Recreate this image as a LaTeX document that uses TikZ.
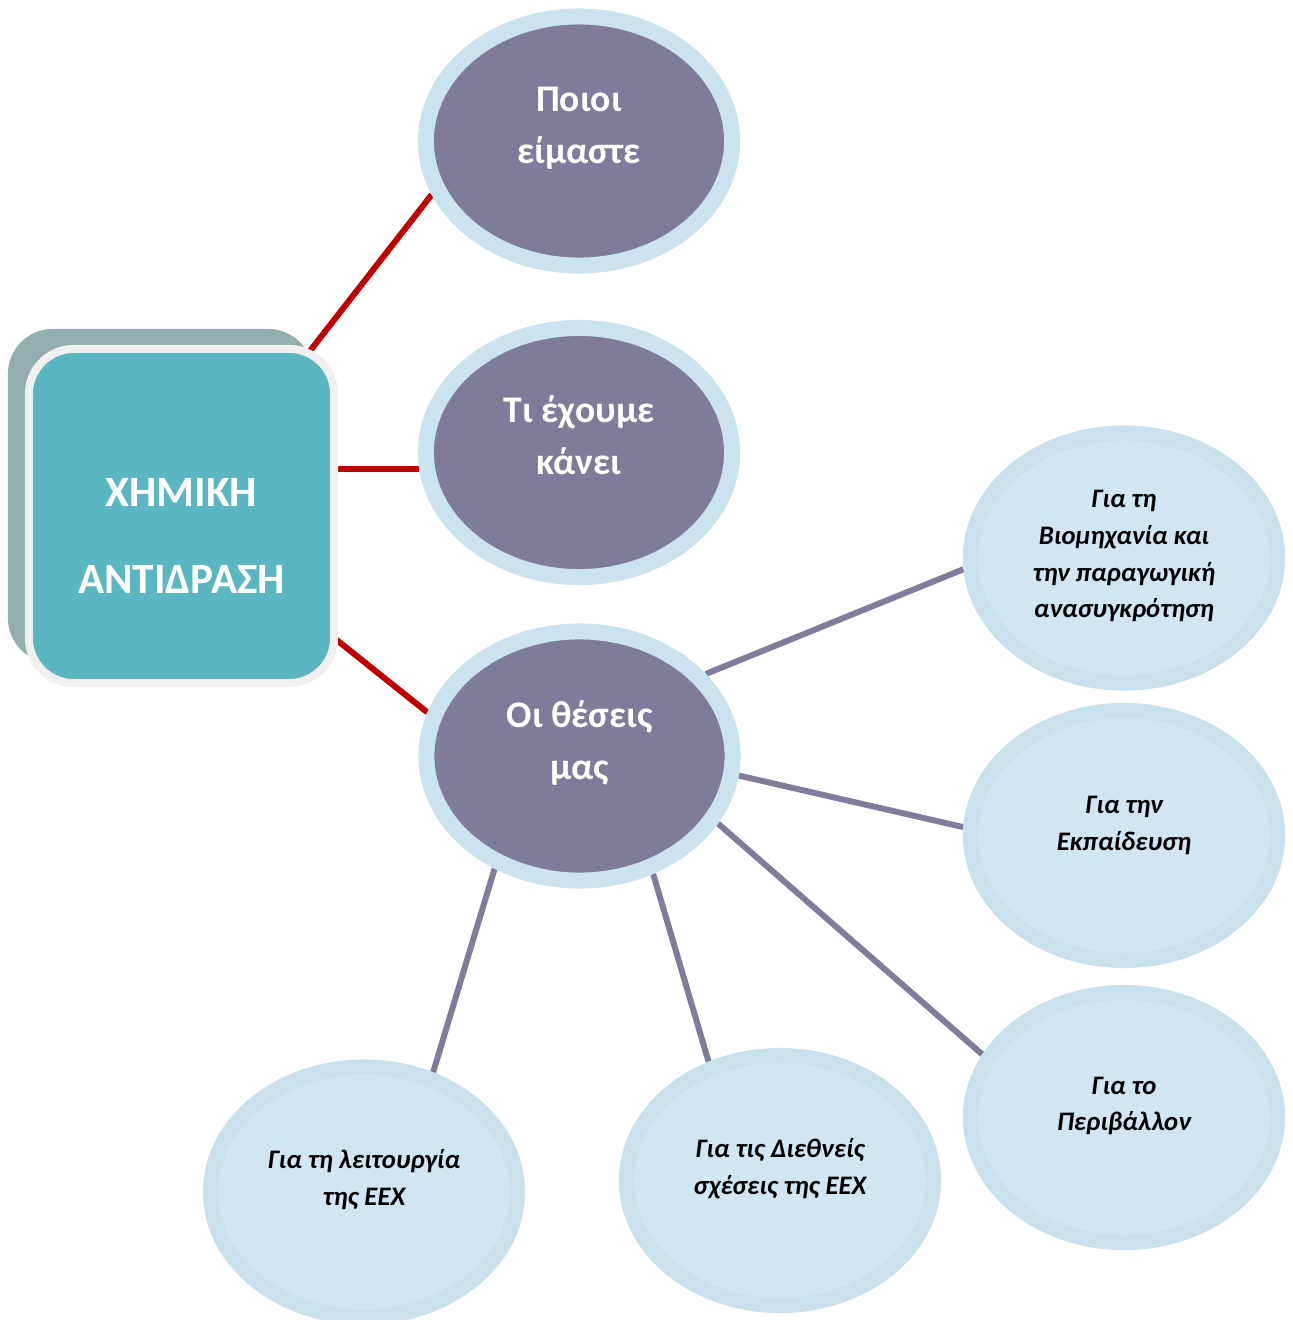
\documentclass[tikz,border=0pt]{standalone}
\usepackage{fontspec}
\setmainfont{Carlito}
\usetikzlibrary{shapes.geometric,shadows}
\definecolor{ringblue}{HTML}{CBE3EE}
\definecolor{hubpurple}{HTML}{7F7B9A}
\definecolor{leafring}{HTML}{C8E1ED}
\definecolor{leaffill}{HTML}{D0E6F2}
\definecolor{linered}{HTML}{C00000}
\definecolor{linepurple}{HTML}{807C9C}
\definecolor{boxteal}{HTML}{5AB6C0}
\definecolor{boxshadow}{HTML}{92AEAF}
\definecolor{boxborder}{HTML}{F0F0F0}
\pgfdeclarelayer{bg}
\pgfsetlayers{bg,main}
\begin{document}
\begin{tikzpicture}[x=0.01cm,y=-0.01cm,
  hub/.style={ellipse, minimum width=3.06cm, minimum height=2.49cm, inner sep=0pt,
    draw=ringblue, line width=0.16cm, fill=hubpurple},
  leaf/.style={ellipse, minimum width=3.07cm, minimum height=2.50cm, inner sep=0pt,
    draw=leafring, line width=0.15cm, fill=leaffill},
  hubtext/.style={text=white, font=\fontsize{10.7pt}{14.8pt}\selectfont\bfseries,
    align=center, inner sep=0pt},
  leaftext/.style={text=black, font=\fontsize{7.6pt}{10.5pt}\selectfont\bfseries\itshape,
    align=center, inner sep=0pt},
  mainbox/.style={rectangle, minimum width=3.05cm, minimum height=3.34cm, inner sep=0pt,
    rounded corners=0.45cm, draw=boxborder, line width=0.08cm, fill=boxteal,
    drop shadow={shadow xshift=-0.21cm, shadow yshift=0.2cm, fill=boxshadow, opacity=1}},
  boxtext/.style={text=white, font=\fontsize{12.3pt}{25pt}\selectfont\bfseries,
    align=center, inner sep=0pt},
  redline/.style={draw=linered, line width=0.06cm},
  purpline/.style={draw=linepurple, line width=0.06cm}]
\useasboundingbox (0,0) rectangle (1293,1320);

% central box
\node[mainbox] (box) at (181.5,516) {};
\node[boxtext] (boxt) at (181.5,536) {ΧΗΜΙΚΗ\\ΑΝΤΙΔΡΑΣΗ};

% hubs
\node[hub] (c1) at (579,141) {};
\node[hub] (c2) at (579,452.5) {};
\node[hub] (c3) at (579.5,756) {};
\node[hubtext] (t1) at (579,128) {Ποιοι\\είμαστε};
\node[hubtext] (t2) at (579,435) {Τι έχουμε\\κάνει};
\node[hubtext] (t3) at (579.5,743) {Οι θέσεις\\μας};

% leaves
\node[leaf] (b1) at (1124,558) {};
\node[leaf] (b2) at (1124,835.5) {};
\node[leaf] (b3) at (1124,1117.5) {};
\node[leaf] (b4) at (364,1192) {};
\node[leaf] (b5) at (780,1180.5) {};
\node[leaftext] (s1) at (1124,556) {Για τη\\Βιομηχανία και\\την παραγωγική\\ανασυγκρότηση};
\node[leaftext] (s2) at (1124,825.5) {Για την\\Εκπαίδευση};
\node[leaftext] (s3) at (1124,1106) {Για το\\Περιβάλλον};
\node[leaftext] (s4) at (364,1180) {Για τη λειτουργία\\της ΕΕΧ};
\node[leaftext] (s5) at (780,1169) {Για τις Διεθνείς\\σχέσεις της ΕΕΧ};

% connectors
\begin{pgfonlayer}{bg}
\draw[redline] (box.center) -- (c1.200);
\draw[redline] (c2.186.5) -- (c2.186.5 -| box.center);
\draw[redline] (box.center) -- (c3.164);
\draw[purpline] (c3.33.6) -- (b1.184.3);
\draw[purpline] (c3.-7.9) -- (b2.177.3);
\draw[purpline] (c3.-26.8) -- (b3.156.1);
\draw[purpline] (c3.-58.9) -- (b5.121.3);
\draw[purpline] (c3.233.8) -- (b4.60.5);
\end{pgfonlayer}
\end{tikzpicture}
\end{document}
